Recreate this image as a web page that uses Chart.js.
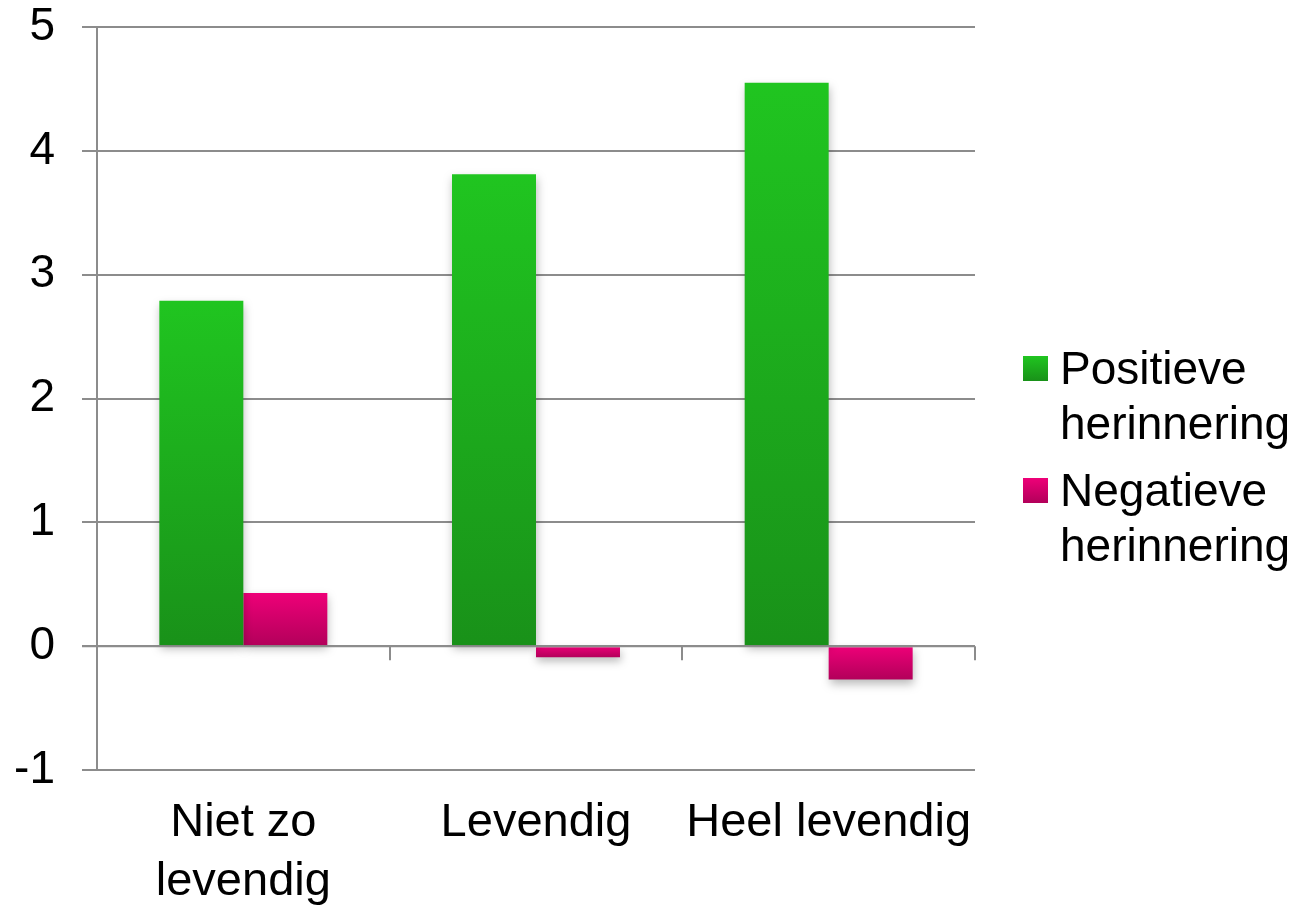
<!DOCTYPE html>
<html>
<head>
<meta charset="utf-8">
<script src="https://cdn.jsdelivr.net/npm/chart.js@4.4.1/dist/chart.umd.min.js"></script>
<style>
  html, body { margin: 0; padding: 0; background: #ffffff; }
  #wrap { width: 1303px; height: 906px; position: relative; }
</style>
</head>
<body>
<div id="wrap"><canvas id="c" width="1303" height="906"></canvas></div>
<script>
const categories = [["Niet zo", "levendig"], "Levendig", "Heel levendig"];
const seriesNames = [["Positieve", "herinnering"], ["Negatieve", "herinnering"]];
const positiveValues = [2.79, 3.81, 4.55];
const negativeValues = [0.43, -0.09, -0.27];
const yTicks = [-1, 0, 1, 2, 3, 4, 5];

const FONT = '"Liberation Sans", Arial, Helvetica, sans-serif';
const GRID = '#8c8c8c';
const palettes = [
  { top: '#20c520', bottom: '#199119' },
  { top: '#ee0078', bottom: '#b2005a' }
];

function barGradient(ctx, idx) {
  const chart = ctx.chart;
  const pal = palettes[idx];
  if (!chart.chartArea || ctx.type !== 'data') return pal.top;
  const y = chart.scales.y;
  const v = ctx.raw;
  const p1 = y.getPixelForValue(v);
  const p0 = y.getPixelForValue(0);
  const top = Math.min(p0, p1), bot = Math.max(p0, p1);
  if (bot - top < 1) return pal.top;
  const g = chart.ctx.createLinearGradient(0, top, 0, bot);
  g.addColorStop(0, pal.top);
  g.addColorStop(1, pal.bottom);
  return g;
}

const shadowPlugin = {
  id: 'barShadow',
  beforeDatasetsDraw(chart) {
    const c = chart.ctx;
    c.save();
    c.shadowColor = 'rgba(0,0,0,0.28)';
    c.shadowBlur = 9;
    c.shadowOffsetX = 1;
    c.shadowOffsetY = 4;
  },
  afterDatasetsDraw(chart) {
    chart.ctx.restore();
  }
};

const axisPlugin = {
  id: 'zeroAxisTicks',
  afterDatasetsDraw(chart) {
    const c = chart.ctx;
    const x = chart.scales.x, y = chart.scales.y;
    const y0 = y.getPixelForValue(0);
    c.save();
    c.strokeStyle = GRID;
    c.lineWidth = 2;
    c.beginPath();
    c.moveTo(chart.chartArea.left - 15, y0);
    c.lineTo(chart.chartArea.right, y0);
    c.stroke();
    const n = chart.data.labels.length;
    const step = x.getPixelForValue(1) - x.getPixelForValue(0);
    for (let i = 0; i < n; i++) {
      const px = Math.round(x.getPixelForValue(i) + step / 2);
      c.beginPath();
      c.moveTo(px, y0);
      c.lineTo(px, y0 + 14);
      c.stroke();
    }
    c.beginPath();
    c.moveTo(chart.chartArea.left, chart.chartArea.top);
    c.lineTo(chart.chartArea.left, chart.chartArea.bottom);
    c.stroke();
    c.restore();
  }
};

const legendPlugin = {
  id: 'customLegend',
  afterDraw(chart) {
    const c = chart.ctx;
    c.save();
    c.font = '46px ' + FONT;
    c.textBaseline = 'alphabetic';
    c.textAlign = 'left';
    const boxX = 1023, boxSize = 25, textX = 1060;
    const baselines = [384, 506];
    const lineGap = 55;
    chart.data.datasets.forEach((ds, i) => {
      const b = baselines[i];
      const pal = palettes[i];
      const bt = i === 0 ? 356 : 478;
      const g = c.createLinearGradient(0, bt, 0, bt + boxSize);
      g.addColorStop(0, pal.top);
      g.addColorStop(1, pal.bottom);
      c.fillStyle = g;
      c.fillRect(boxX, bt, boxSize, boxSize);
      c.fillStyle = '#000000';
      const lines = Array.isArray(ds.label) ? ds.label : [ds.label];
      lines.forEach((t, k) => c.fillText(t, textX, b + k * lineGap));
    });
    c.restore();
  }
};

new Chart(document.getElementById('c'), {
  type: 'bar',
  data: {
    labels: categories,
    datasets: [
      {
        label: seriesNames[0],
        data: positiveValues,
        backgroundColor: (ctx) => barGradient(ctx, 0),
        borderWidth: 0
      },
      {
        label: seriesNames[1],
        data: negativeValues,
        backgroundColor: (ctx) => barGradient(ctx, 1),
        borderWidth: 0
      }
    ]
  },
  options: {
    responsive: false,
    animation: false,
    devicePixelRatio: 1,
    categoryPercentage: 0.574,
    barPercentage: 1.0,
    layout: { padding: { left: 0, right: 328, top: 27, bottom: 0 } },
    plugins: {
      legend: { display: false },
      tooltip: { enabled: false }
    },
    scales: {
      x: {
        position: 'bottom',
        border: { display: false },
        grid: { display: false, drawTicks: false },
        ticks: {
          color: '#000000',
          font: { family: FONT, size: 47, lineHeight: 1.25 },
          padding: 24,
          maxRotation: 0,
          autoSkip: false
        },
        afterFit: (s) => { s.height = 136; s.paddingLeft = 0; s.paddingRight = 0; }
      },
      y: {
        min: -1,
        max: 5,
        border: { display: false },
        grid: {
          color: GRID,
          lineWidth: 2,
          drawTicks: true,
          tickLength: 15,
          tickColor: GRID
        },
        afterBuildTicks: (s) => { s.ticks = yTicks.map(v => ({ value: v })); },
        ticks: {
          color: '#000000',
          font: { family: FONT, size: 46, lineHeight: 1.2 },
          padding: 27
        },
        afterFit: (s) => { s.width = 97; s.paddingTop = 0; s.paddingBottom = 0; }
      }
    }
  },
  plugins: [shadowPlugin, axisPlugin, legendPlugin]
});
</script>
</body>
</html>
